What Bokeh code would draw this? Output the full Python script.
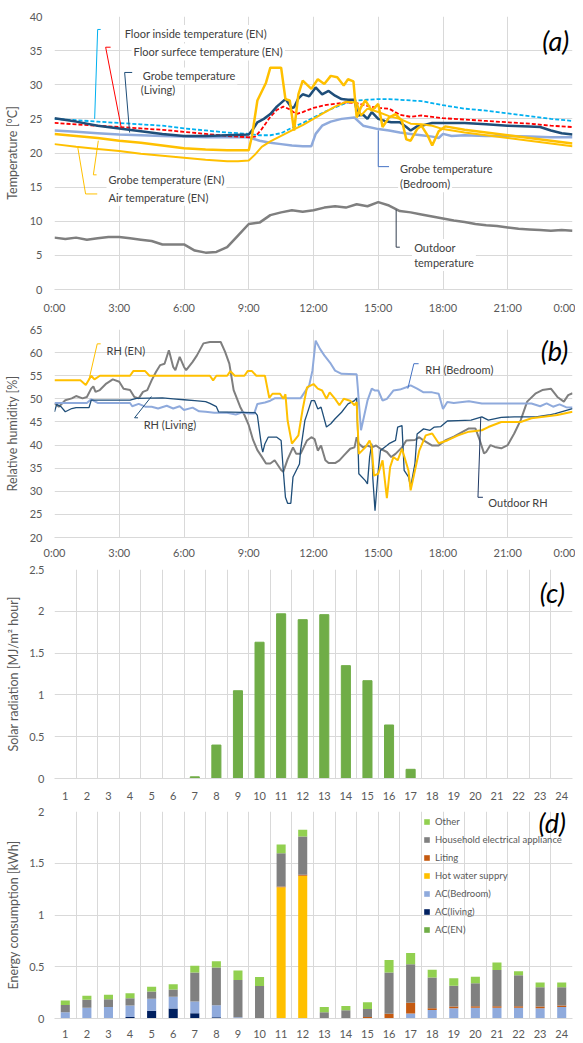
from bokeh.plotting import figure
from bokeh.models import (Range1d, FixedTicker, Label, Legend, LegendItem,
                          NumeralTickFormatter, ColumnDataSource)
from bokeh.layouts import column
from bokeh.embed import file_html
from bokeh.resources import INLINE

# ------------------------------------------------------------------ data
hour_ticks = [0, 3, 6, 9, 12, 15, 18, 21, 24]
hour_labels = ["0:00", "3:00", "6:00", "9:00", "12:00", "15:00", "18:00", "21:00", "0:00"]

# (a) temperatures
floor_inside_t = [0, 1, 2, 3, 4, 5, 6, 7, 8, 9, 9.5, 10, 10.5, 11, 11.5, 12, 12.5, 13, 13.5, 14, 14.5,
                  15, 15.5, 16, 16.5, 17, 17.5, 18, 19, 20, 21, 22, 23, 24]
floor_inside_v = [25.0, 24.8, 24.6, 24.4, 24.2, 24.0, 23.6, 23.3, 23.0, 22.8, 22.6, 22.6, 22.9, 23.7, 24.4,
                  25.2, 26.0, 26.7, 27.3, 27.7, 27.8, 27.9, 27.9, 27.8, 27.7, 27.6, 27.3, 27.0, 26.5, 26.2,
                  25.8, 25.4, 25.0, 24.7]

floor_surface_t = [0, 1, 2, 3, 4, 5, 6, 7, 8, 9, 9.3, 9.6, 10, 10.3, 10.6, 10.9, 11.2, 11.5, 12, 12.5, 13,
                   13.5, 14, 14.5, 15, 15.5, 16, 16.5, 17, 17.5, 18, 19, 20, 21, 22, 23, 24]
floor_surface_v = [24.4, 24.2, 24.0, 23.8, 23.6, 23.4, 23.1, 22.8, 22.5, 22.3, 22.4, 23.5, 25.3, 26.3, 26.8,
                   26.4, 25.7, 26.0, 26.6, 27.0, 27.2, 27.4, 27.3, 26.9, 26.6, 26.5, 25.6, 25.3, 25.5, 25.3,
                   25.1, 24.9, 24.7, 24.5, 24.3, 24.0, 23.8]

globe_living_t = [0, 1, 2, 3, 4, 5, 6, 7, 8, 9, 9.2, 9.4, 9.7, 10, 10.3, 10.7, 11, 11.1, 11.3, 11.5, 11.8,
                  12.1, 12.4, 12.7, 13, 13.3, 13.6, 13.9, 14.05, 14.3, 14.5, 14.7, 15, 15.3, 15.6, 16, 16.3,
                  16.5, 16.8, 17, 17.5, 18, 19, 20, 21, 22, 22.5, 23, 23.5, 24]
globe_living_v = [25.1, 24.6, 24.0, 23.6, 23.2, 22.8, 22.5, 22.5, 22.6, 22.7, 23.5, 24.5, 25.0, 25.7, 26.8,
                  27.9, 26.6, 26.7, 28.0, 28.6, 28.3, 29.6, 28.6, 29.1, 28.4, 27.9, 27.8, 27.8, 25.5, 25.6,
                  25.0, 26.0, 25.0, 24.7, 24.5, 24.5, 23.8, 23.3, 23.9, 24.0, 24.4, 24.4, 24.4, 24.2, 24.0,
                  23.9, 23.8, 23.3, 22.9, 22.7]

globe_bed_t = [0, 1, 2, 3, 4, 5, 6, 7, 8, 9, 9.5, 10, 10.5, 11, 11.5, 11.9, 12.1, 12.4, 12.8, 13.3, 13.9,
               14.1, 14.3, 15, 15.5, 16, 16.5, 17, 17.5, 17.8, 18.0, 18.4, 19, 20, 21, 22, 23, 24]
globe_bed_v = [23.3, 23.1, 22.9, 22.7, 22.6, 22.5, 22.4, 22.3, 22.3, 22.3, 21.8, 21.5, 21.3, 21.1, 21.0,
               21.0, 22.8, 24.0, 24.6, 25.0, 25.2, 24.6, 24.0, 23.5, 23.3, 23.0, 22.8, 22.6, 22.4, 22.2,
               22.8, 22.5, 22.6, 22.5, 22.5, 22.4, 22.3, 22.3]

globe_en_t = [0, 1, 2, 3, 4, 5, 6, 7, 8, 9.0, 9.15, 9.4, 9.8, 10.0, 10.5, 10.7, 10.9, 11.1, 11.3, 11.5, 11.9,
              12.2, 12.5, 12.8, 13.1, 13.4, 13.6, 13.85, 14.0, 14.2, 14.4, 14.7, 15.0, 15.2, 15.5, 15.8,
              16.1, 16.3, 16.5, 16.8, 17.0, 17.3, 17.5, 17.8, 18.1, 19, 20, 21, 22, 23, 24]
globe_en_v = [22.8, 22.5, 22.2, 21.8, 21.5, 21.1, 20.7, 20.5, 20.4, 20.4, 22.5, 27.7, 30.3, 32.5, 32.5, 27.9,
              27.7, 23.3, 28.6, 30.6, 29.4, 30.8, 30.1, 31.3, 31.1, 29.9, 30.8, 30.5, 25.2, 26.7, 27.7, 26.2,
              27.2, 23.8, 25.2, 25.7, 24.7, 22.0, 21.8, 23.5, 24.0, 22.5, 21.1, 23.2, 23.9, 23.4, 23.0,
              22.6, 22.2, 21.8, 21.4]

air_en_t = [0, 1, 2, 3, 4, 5, 6, 7, 8, 8.5, 9, 9.3, 9.6, 10, 10.5, 11, 11.5, 12, 12.5, 13, 13.5, 14, 14.2,
            14.5, 15, 15.5, 16, 16.5, 17, 17.5, 18, 19, 20, 21, 22, 23, 24]
air_en_v = [21.3, 20.9, 20.6, 20.3, 19.9, 19.6, 19.3, 19.0, 18.8, 18.8, 18.9, 19.8, 20.9, 21.7, 22.5, 23.3,
            24.1, 25.0, 25.9, 26.8, 27.5, 27.4, 25.5, 26.5, 26.0, 25.4, 25.0, 24.3, 24.2, 24.0, 23.5, 23.0,
            22.6, 22.2, 21.8, 21.4, 21.0]

outdoor_t = [0, 0.5, 1, 1.5, 2, 2.5, 3, 3.5, 4, 4.5, 5, 5.5, 6, 6.5, 7, 7.5, 8, 8.5, 9, 9.5, 10, 10.5, 11,
             11.5, 12, 12.5, 13, 13.5, 14, 14.5, 15, 15.5, 16, 16.5, 17, 17.5, 18, 18.5, 19, 19.5, 20, 20.5,
             21, 21.5, 22, 22.5, 23, 23.5, 24]
outdoor_v = [7.6, 7.4, 7.6, 7.3, 7.5, 7.7, 7.7, 7.5, 7.3, 7.1, 6.6, 6.6, 6.6, 5.7, 5.4, 5.5, 6.2, 7.9, 9.6,
             9.8, 10.9, 11.3, 11.6, 11.4, 11.6, 12.0, 12.2, 12.0, 12.5, 12.2, 12.8, 12.3, 11.5, 11.3, 11.0,
             10.7, 10.4, 10.1, 9.9, 9.6, 9.4, 9.3, 9.1, 8.9, 8.8, 8.7, 8.6, 8.7, 8.6]

# (b) relative humidity
rh_en_t = [0, 1.2, 1.45, 1.7, 1.85, 2.1, 3.5, 3.65, 4.2, 4.4, 7.2, 7.35, 7.5, 8.0, 8.15, 8.35, 8.8, 8.95,
           9.15, 9.35, 9.75, 9.95, 10.1, 10.45, 10.6, 10.7, 10.8, 11.0, 11.3, 11.5, 11.7, 12.0, 12.2, 12.4,
           12.6, 12.75, 13.0, 13.2, 13.4, 13.7, 13.9, 14.0, 14.1, 14.4, 14.6, 14.7, 14.8, 15.0, 15.2, 15.4,
           15.55, 15.7, 15.9, 16.1, 16.4, 16.5, 16.7, 16.9, 17.2, 17.5, 17.8, 18.2, 18.7, 19.2, 19.8, 20.1,
           20.7, 21.6, 22.1, 23.3, 24]
rh_en_v = [54, 54, 53, 55, 54.2, 55, 55, 56, 56, 55, 55, 54, 55, 55, 56, 55, 55, 56, 56, 55, 55, 50.2, 51.1,
           51.1, 50, 51, 45.3, 40.3, 42.1, 47.8, 52.5, 53.2, 52.2, 51.8, 50, 51.4, 50, 48.6, 50, 49.6, 48.6,
           49.3, 38.1, 39.5, 41, 39.5, 33.4, 33.8, 36.7, 28.5, 35.2, 37.4, 36.7, 39.2, 34.5, 30.2, 34.5,
           38.8, 42.1, 42.5, 40.4, 41, 42.1, 42.9, 43.2, 43.9, 45, 45, 45.8, 46.5, 47.2]

rh_living_t = [0, 0.1, 0.3, 0.5, 0.8, 1.0, 1.6, 1.7, 3.5, 3.8, 5.0, 5.5, 6.0, 6.5, 7.0, 7.2, 7.5, 7.6, 9.3,
               9.4, 9.6, 9.65, 9.75, 9.9, 10.3, 10.5, 10.6, 10.7, 10.8, 10.95, 11.05, 11.2, 11.35, 11.4, 11.6,
               11.7, 11.9, 12.05, 12.2, 12.35, 12.6, 12.8, 13.0, 13.3, 13.6, 13.9, 14.0, 14.1, 14.4, 14.5,
               14.6, 14.7, 14.75, 14.85, 15.0, 15.1, 15.4, 15.5, 15.8, 15.9, 16.1, 16.2, 16.4, 16.5, 16.7,
               16.8, 17.1, 17.4, 17.6, 17.9, 18.2, 18.7, 19.3, 19.8, 20.1, 20.7, 21.3, 22.3, 22.9, 23.2, 24]
rh_living_v = [47.2, 48.8, 48.3, 47.2, 47.9, 48.1, 48.1, 49.7, 49.7, 50.1, 50.2, 50.0, 49.8, 49.6, 49.4,
               49.0, 48.3, 47.2, 47.0, 46.4, 39.5, 38.5, 40.3, 41.7, 41.7, 41.0, 34.5, 28.7, 27.4, 27.4, 33.1,
               34.5, 35.9, 38.8, 45.3, 46.7, 49.6, 49.6, 47.8, 48.2, 43.9, 44.6, 45.7, 47.1, 48.9, 49.6, 50.2,
               33.8, 32.3, 31.6, 37.4, 40.3, 32.7, 25.8, 34.5, 38.8, 39.9, 40.3, 41.0, 43.9, 44.2, 34.5, 33.1,
               30.9, 36.0, 42.4, 43.5, 43.2, 43.9, 44.0, 45.2, 45.3, 45.4, 46.1, 45.4, 46.0, 46.1, 46.1, 46.5,
               46.8, 47.9]

rh_bed_t = [0, 1.5, 1.7, 2.0, 3.5, 3.6, 3.9, 4.2, 4.5, 4.8, 5.2, 5.5, 5.8, 6.0, 6.4, 6.7, 7.0, 7.4, 8.0,
            8.4, 8.7, 9.0, 9.25, 9.4, 9.75, 10.0, 10.2, 11.4, 11.8, 11.95, 12.1, 12.3, 12.5, 12.8, 13.0,
            13.3, 14.0, 14.05, 14.2, 14.3, 14.5, 14.7, 14.85, 15.0, 15.2, 15.4, 15.7, 16.0, 16.3, 16.5,
            16.8, 17.1, 17.5, 17.8, 18.0, 18.2, 18.5, 19.2, 19.8, 22.1, 22.5, 22.8, 23.1, 23.4, 23.7, 24]
rh_bed_v = [49.1, 49.1, 49.9, 49.1, 49.1, 48.4, 48.9, 48.3, 48.3, 47.9, 48.5, 47.9, 48.4, 47.6, 48.1,
            47.3, 47.2, 47.0, 47.0, 46.6, 47.1, 46.8, 46.8, 48.9, 49.2, 49.6, 50.1, 50.1, 52.9, 56.1, 62.6,
            60.8, 59.4, 57.6, 56.1, 55.4, 55.3, 52.5, 43.2, 45.3, 49.6, 52.2, 51.8, 51.8, 49.6, 50.0, 51.8,
            52.0, 52.5, 52.9, 52.2, 51.4, 51.4, 51.1, 47.8, 49.3, 49.1, 49.5, 49.0, 49.0, 48.4, 49.0, 48.3,
            48.8, 48.2, 48.1]

rh_out_t = [0, 0.2, 0.5, 0.8, 1.0, 1.3, 1.5, 1.7, 1.8, 1.9, 2.1, 2.4, 2.7, 3.0, 3.2, 3.5, 3.7, 3.9, 4.1,
            4.3, 4.5, 4.7, 4.9, 5.1, 5.3, 5.5, 5.6, 5.8, 6.0, 6.1, 6.4, 6.6, 6.9, 7.2, 7.7, 7.9, 8.1, 8.3,
            8.6, 8.8, 9.0, 9.2, 9.4, 9.6, 9.8, 10.0, 10.2, 10.5, 10.6, 10.8, 11.05, 11.2, 11.4, 11.7, 11.9,
            12.05, 12.2, 12.35, 12.55, 12.7, 13.0, 13.2, 13.4, 13.7, 13.9, 14.0, 14.1, 14.3, 14.5, 14.7,
            14.9, 15.1, 15.4, 15.6, 15.8, 16.1, 16.3, 16.7, 16.9, 17.1, 17.5, 17.8, 18.1, 18.5, 19.2, 19.5,
            19.7, 19.9, 20.0, 20.2, 20.4, 20.7, 21.0, 21.3, 21.6, 21.9, 22.3, 22.6, 23.0, 23.3, 23.6, 23.8,
            24]
rh_out_v = [49.0, 48.3, 49.7, 50.1, 50.6, 50.1, 50.4, 52.2, 52.7, 51.5, 51.9, 53.3, 54.2, 53.7, 52.2, 51.9,
            50.4, 50.1, 51.5, 51.9, 54.0, 55.8, 57.3, 57.6, 60.5, 56.9, 56.2, 59.1, 56.9, 56.2, 58.0, 59.4,
            62.0, 62.3, 62.3, 60.2, 57.6, 51.9, 48.3, 46.5, 44.3, 41.1, 38.9, 37.5, 36.0, 36.0, 36.7, 34.6,
            34.2, 36.9, 39.5, 38.1, 38.1, 41.0, 41.7, 41.3, 38.8, 39.9, 36.7, 36.1, 36.1, 36.7, 37.7, 39.2,
            39.5, 41.7, 40.3, 39.5, 39.9, 39.5, 39.9, 39.2, 38.5, 37.4, 38.1, 39.5, 41.0, 41.1, 41.7, 41.0,
            39.9, 39.9, 41.0, 41.8, 43.6, 43.6, 41.1, 38.2, 38.5, 40.0, 39.6, 39.3, 40.0, 42.5, 45.4, 49.4,
            51.2, 51.9, 52.2, 50.4, 49.4, 50.8, 51.2]

# (c) solar radiation, (d) energy consumption by hour
hours = [1, 2, 3, 4, 5, 6, 7, 8, 9, 10, 11, 12, 13, 14, 15, 16, 17, 18, 19, 20, 21, 22, 23, 24]
solar = [0, 0, 0, 0, 0, 0, 0.02, 0.40, 1.05, 1.63, 1.97, 1.90, 1.96, 1.35, 1.17, 0.64, 0.11, 0, 0, 0, 0, 0, 0, 0]

ac_en = [0, 0, 0, 0, 0, 0, 0, 0, 0, 0, 0, 0, 0, 0, 0, 0, 0, 0, 0, 0, 0, 0, 0, 0]
ac_living = [0, 0, 0, 0.015, 0.076, 0.096, 0.05, 0.013, 0, 0, 0, 0, 0, 0, 0, 0, 0, 0, 0, 0, 0, 0, 0, 0]
ac_bedroom = [0.06, 0.105, 0.11, 0.11, 0.115, 0.115, 0.115, 0.115, 0.013, 0.005, 0, 0, 0, 0, 0, 0,
              0.048, 0.083, 0.10, 0.105, 0.105, 0.105, 0.10, 0.11]
hot_water = [0, 0, 0, 0, 0, 0, 0, 0, 0, 0, 1.268, 1.38, 0, 0, 0, 0, 0, 0, 0, 0, 0, 0, 0, 0]
liting = [0, 0, 0, 0, 0, 0, 0, 0, 0, 0, 0.008, 0.008, 0, 0, 0.015, 0.045, 0.105, 0.016, 0.016, 0.013,
          0.013, 0.013, 0.016, 0.016]
household = [0.07, 0.075, 0.075, 0.07, 0.07, 0.07, 0.28, 0.365, 0.36, 0.31, 0.32, 0.37, 0.06, 0.08, 0.077,
             0.40, 0.37, 0.296, 0.20, 0.222, 0.35, 0.30, 0.185, 0.176]
other = [0.045, 0.04, 0.045, 0.05, 0.045, 0.05, 0.065, 0.06, 0.09, 0.085, 0.085, 0.065, 0.05, 0.04, 0.064,
         0.12, 0.11, 0.076, 0.073, 0.064, 0.073, 0.038, 0.047, 0.047]
energy_names = ["AC(EN)", "AC(living)", "AC(Bedroom)", "Hot water suppry", "Liting",
                "Household electrical appliance", "Other"]
energy_colors = ["#70AD47", "#002060", "#8FAADC", "#FFC000", "#C55A11", "#808080", "#92D050"]

# ------------------------------------------------------------------ style
FONT = "Lato"
TXT = "#595959"
ANN = "#404040"
GRID = "#D9D9D9"
W = 575
LEFT = 54
RIGHT = 3


def base(height, top, bottom, xr, yr, yticks, ylabel, ystand, ttl_stand, xstand):
    p = figure(width=W, height=height, x_range=xr, y_range=yr, output_backend="svg",
               toolbar_location=None, title=None,
               min_border_left=LEFT, min_border_right=RIGHT,
               min_border_top=top, min_border_bottom=bottom)
    p.outline_line_color = None
    p.background_fill_color = "white"
    p.border_fill_color = "white"
    p.yaxis.ticker = FixedTicker(ticks=yticks)
    p.yaxis.axis_line_color = None
    p.xaxis.axis_line_color = GRID
    for ax in (p.xaxis, p.yaxis):
        ax.major_tick_line_color = None
        ax.minor_tick_line_color = None
        ax.major_tick_out = 0
        ax.major_tick_in = 0
        ax.major_label_text_font = FONT
        ax.major_label_text_font_size = "11px"
        ax.major_label_text_color = TXT
    p.yaxis.major_label_standoff = ystand
    p.xaxis.major_label_standoff = xstand
    p.yaxis.axis_label = ylabel
    p.yaxis.axis_label_text_font = FONT
    p.yaxis.axis_label_text_font_size = "12.5px"
    p.yaxis.axis_label_text_font_style = "normal"
    p.yaxis.axis_label_text_color = TXT
    p.yaxis.axis_label_standoff = ttl_stand
    p.xgrid.grid_line_color = GRID
    p.ygrid.grid_line_color = GRID
    p.xgrid.grid_line_width = 1
    p.ygrid.grid_line_width = 1
    return p


def add_text(p, x, y, text, size="11px", bg=True, align="left", style="normal", color=ANN):
    lab = Label(x=x, y=y, text=text, text_font=FONT, text_font_size=size, text_color=color,
                text_align=align, text_baseline="middle", text_font_style=style)
    if bg:
        lab.background_fill_color = "white"
        lab.padding = 2
    p.add_layout(lab)


def leader(p, pts, color):
    p.line([q[0] for q in pts], [q[1] for q in pts], line_color=color, line_width=1)


# ------------------------------------------------------------------ (a)
pa = base(318, 16, 29, Range1d(0, 24), Range1d(0, 40), [0, 5, 10, 15, 20, 25, 30, 35, 40],
          "Temperature [\u00b0C]", 12, 7, 11)
pa.xaxis.ticker = FixedTicker(ticks=hour_ticks)
pa.xaxis.major_label_overrides = dict(zip(hour_ticks, hour_labels))

pa.line(outdoor_t, outdoor_v, line_color="#7F7F7F", line_width=2.5)
pa.line(globe_bed_t, globe_bed_v, line_color="#8FAADC", line_width=2.5)
pa.line(floor_inside_t, floor_inside_v, line_color="#00B0F0", line_width=1.8, line_dash="4 2")
pa.line(floor_surface_t, floor_surface_v, line_color="#FF0000", line_width=1.8, line_dash="4 2")
pa.line(globe_living_t, globe_living_v, line_color="#1F4E79", line_width=2.5)
pa.line(air_en_t, air_en_v, line_color="#FFC000", line_width=2)
pa.line(globe_en_t, globe_en_v, line_color="#FFC000", line_width=2.5)

leader(pa, [(2.14, 38.1), (2.0, 38.1), (1.86, 25.0)], "#00B0F0")
leader(pa, [(2.6, 35.5), (2.37, 35.5), (3.1, 23.6)], "#FF0000")
leader(pa, [(3.6, 31.8), (3.25, 31.8), (3.48, 23.0)], "#1F4E79")
leader(pa, [(2.03, 21.8), (1.8, 16.8), (1.95, 16.8)], "#FFC000")
leader(pa, [(1.08, 20.8), (1.44, 14.0), (1.98, 14.0)], "#FFC000")
leader(pa, [(15.0, 23.3), (15.0, 18.0), (15.5, 18.0)], "#4472C4")
leader(pa, [(15.83, 11.7), (15.83, 6.2), (16.0, 6.2)], "#333F50")

add_text(pa, 3.16, 37.5, "Floor inside temperature (EN)")
add_text(pa, 3.57, 34.8, "Floor surfece temperature (EN)")
add_text(pa, 4.0, 31.3, "Grobe temperature")
add_text(pa, 4.0, 29.3, "(Living)", bg=False)
add_text(pa, 2.41, 16.1, "Grobe temperature (EN)")
add_text(pa, 2.41, 13.5, "Air temperature (EN)")
add_text(pa, 15.92, 17.7, "Grobe temperature")
add_text(pa, 15.92, 15.5, "(Bedroom)")
add_text(pa, 16.57, 6.15, "Outdoor")
add_text(pa, 16.57, 3.95, "temperature")
add_text(pa, 23.85, 36.5, "(a)", size="27px", bg=False, align="right", style="italic", color="black")

# ------------------------------------------------------------------ (b)
pb = base(244, 11, 25, Range1d(0, 24), Range1d(20, 65), [20, 25, 30, 35, 40, 45, 50, 55, 60, 65],
          "Relative humidity [%]", 12, 7, 8)
pb.xaxis.ticker = FixedTicker(ticks=hour_ticks)
pb.xaxis.major_label_overrides = dict(zip(hour_ticks, hour_labels))

pb.line(rh_out_t, rh_out_v, line_color="#7F7F7F", line_width=2)
pb.line(rh_bed_t, rh_bed_v, line_color="#8FAADC", line_width=2)
pb.line(rh_living_t, rh_living_v, line_color="#1F4E79", line_width=1.3)
pb.line(rh_en_t, rh_en_v, line_color="#FFC000", line_width=2)

leader(pb, [(2.14, 61.9), (1.98, 61.9), (1.59, 54.0)], "#FFC000")
leader(pb, [(3.87, 45.9), (3.71, 45.9), (4.49, 50.5)], "#1F4E79")
leader(pb, [(16.37, 52.2), (16.65, 57.6), (16.87, 57.6)], "#4472C4")
leader(pb, [(19.75, 46.0), (19.62, 28.7), (19.85, 28.7)], "#1F3864")

add_text(pb, 2.41, 60.5, "RH (EN)", bg=False)
add_text(pb, 4.13, 44.5, "RH (Living)", bg=False)
add_text(pb, 17.18, 56.4, "RH (Bedroom)", bg=False)
add_text(pb, 20.1, 27.6, "Outdoor RH", bg=False)
add_text(pb, 23.8, 60.5, "(b)", size="27px", bg=False, align="right", style="italic", color="black")

# ------------------------------------------------------------------ (c)
cat_bounds = [0.5, 1.5, 2.5, 3.5, 4.5, 5.5, 6.5, 7.5, 8.5, 9.5, 10.5, 11.5, 12.5, 13.5, 14.5, 15.5,
              16.5, 17.5, 18.5, 19.5, 20.5, 21.5, 22.5, 23.5, 24.5]
pc = base(242, 7, 26, Range1d(0.5, 24.5), Range1d(0, 2.5), [0, 0.5, 1, 1.5, 2, 2.5],
          "Solar radiation [MJ/m\u00b2 hour]", 10, 5, 13)
pc.xaxis.ticker = FixedTicker(ticks=hours)
pc.xgrid.ticker = FixedTicker(ticks=cat_bounds)
pc.yaxis.formatter = NumeralTickFormatter(format="0.[0]")
pc.vbar(x=hours, top=solar, width=0.42, color="#70AD47")
add_text(pc, 24.15, 2.22, "(c)", size="27px", bg=False, align="right", style="italic", color="black")

# ------------------------------------------------------------------ (d)
pd_ = base(239, 7, 25, Range1d(0.5, 24.5), Range1d(0, 2), [0, 0.5, 1, 1.5, 2],
           "Energy consumption [kWh]", 10, 5, 11)
pd_.xaxis.ticker = FixedTicker(ticks=hours)
pd_.xgrid.ticker = FixedTicker(ticks=cat_bounds)
pd_.yaxis.formatter = NumeralTickFormatter(format="0.[0]")
src = ColumnDataSource(dict(hour=hours, s0=ac_en, s1=ac_living, s2=ac_bedroom, s3=hot_water,
                            s4=liting, s5=household, s6=other))
rends = pd_.vbar_stack(["s0", "s1", "s2", "s3", "s4", "s5", "s6"], x="hour", width=0.42,
                       color=energy_colors, source=src, line_width=0)
items = [LegendItem(label=n, renderers=[r]) for n, r in zip(energy_names, rends)][::-1]
leg = Legend(items=items, location=(369, 83), padding=0, margin=0, spacing=7,
             glyph_height=7, glyph_width=7, label_height=11, label_standoff=5,
             label_text_font=FONT, label_text_font_size="9.5px", label_text_color=TXT,
             border_line_color=None, background_fill_alpha=0)
pd_.add_layout(leg)
add_text(pd_, 24.2, 1.89, "(d)", size="27px", bg=False, align="right", style="italic", color="black")

layout = column(pa, pb, pc, pd_, spacing=0)
open("out.html", "w").write(file_html(layout, INLINE))
